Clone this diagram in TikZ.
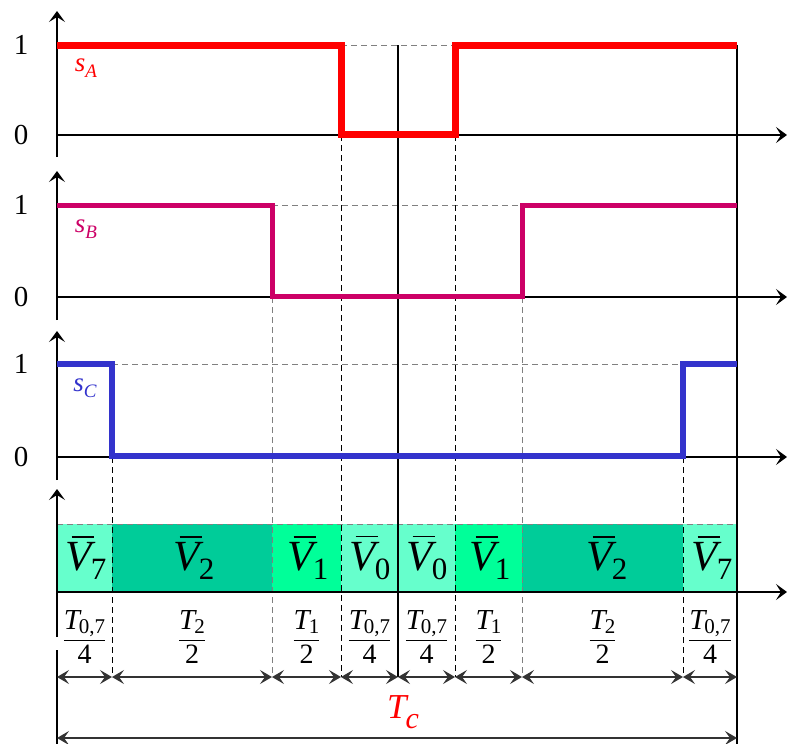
\documentclass[tikz,border=0pt]{standalone}
\usepackage{fontspec}
\setmainfont{Liberation Serif}
\usetikzlibrary{arrows.meta}
\definecolor{sigA}{RGB}{255,0,0}
\definecolor{sigB}{RGB}{204,0,102}
\definecolor{sigC}{RGB}{51,51,204}
\definecolor{vlight}{RGB}{102,255,204}
\definecolor{vdark}{RGB}{0,204,153}
\definecolor{vmid}{RGB}{0,255,153}
\newcommand\fs[2]{{\fontsize{#1}{#1}\selectfont #2}}
\newsavebox\myvbx
% vector label: overlined italic V with a large upright subscript
\newcommand\vlabel[1]{\sbox\myvbx{\fs{43}{\itshape V}}%
  \vbox{\hbox to\wd\myvbx{\hss\vrule width \dimexpr\wd\myvbx-4pt\relax height 1.4pt depth 0pt\kern-2pt}\kern4pt\copy\myvbx}%
  \kern-1pt\raisebox{-9pt}{\fs{31}{#1}}}
% fraction label
\newcommand\flabel[2]{\fs{29}{$\displaystyle\frac{\mbox{\itshape T\kern-1pt\raisebox{-4pt}{\fs{21}{\upshape #1}}}}{\mbox{\fs{28}{#2}}}$}}
% signal label
\newcommand\slabel[1]{\fs{27}{\itshape s}\raisebox{-6pt}{\fs{19}{\itshape #1}}}
\begin{document}
\begin{tikzpicture}[x=1pt,y=-1pt,
  axis/.style={line width=1.4pt,-{Stealth[length=11pt,width=16pt,inset=5pt]}},
  sig/.style={line width=6pt,line join=miter},
  lvl/.style={draw=gray,line width=1pt,dash pattern=on 6pt off 4pt},
  vdash/.style={draw=black,line width=1pt,dash pattern=on 6pt off 4pt},
  vgray/.style={draw=gray,line width=1pt,dash pattern=on 6pt off 4pt},
  dim/.style={line width=1.3pt,draw=black!80,{Stealth[length=12pt,width=14pt,inset=5pt]}-{Stealth[length=12pt,width=14pt,inset=5pt]}},
  ticklab/.style={font=\fontsize{29}{34}\selectfont,inner sep=0pt},
  lab/.style={inner sep=0pt}]
\useasboundingbox (0,0) rectangle (787,744);
% bar cells
\fill[vlight] (57,524) rectangle (112,592);
\fill[vdark]  (112,524) rectangle (272,592);
\fill[vmid]   (272,524) rectangle (341,592);
\fill[vlight] (341,524) rectangle (455,592);
\fill[vmid]   (455,524) rectangle (522,592);
\fill[vdark]  (522,524) rectangle (683,592);
\fill[vlight] (683,524) rectangle (737,592);
% coordinates
\foreach \n/\x in {0/57,1/112,2/272,3/341,4/398,5/455,6/522,7/683,8/737}{
  \coordinate (d\n) at (\x,677);
}
\coordinate (tcL) at (57,738);
\coordinate (tcR) at (737,738);
% level dashed lines
\draw[lvl] (341,45) -- (455,45);
\draw[lvl] (272,205) -- (522,205);
\draw[lvl] (112,364) -- (683,364);
\draw[lvl] (57,524) -- (737,524);
% vertical guide lines
\draw[vdash] (341,135) -- (d3);
\draw[vdash] (455,135) -- (d5);
\draw[vgray] (272,297) -- (d2);
\draw[vgray] (522,297) -- (d6);
\draw[vdash] (112,457) -- (d1);
\draw[vdash] (683,457) -- (d7);
\draw[line width=1.2pt] (398,45) -- (d4);
\draw[line width=1.2pt] (737,45) -- (737,744);
\draw[line width=1.3pt] (57,650) -- (57,744);
% axes
\coordinate (yA0) at (57,157); \coordinate (yA1) at (57,11);
\coordinate (yB0) at (57,320); \coordinate (yB1) at (57,171);
\coordinate (yC0) at (57,480); \coordinate (yC1) at (57,331);
\coordinate (yD0) at (57,637); \coordinate (yD1) at (57,489);
\draw[axis] (yA0) -- (yA1);
\draw[axis] (yB0) -- (yB1);
\draw[axis] (yC0) -- (yC1);
\draw[axis] (yD0) -- (yD1);
\draw[axis] (57,135) -- (787,135);
\draw[axis] (57,297) -- (787,297);
\draw[axis] (57,457) -- (787,457);
\draw[axis] (57,592) -- (787,592);
% signals
\draw[sig,sigA,line width=7pt] (57,45) -- (341,45) -- (341,134) -- (455,134) -- (455,45) -- (737,45);
\draw[sig,sigB,line width=5pt] (57,205) -- (272,205) -- (272,296) -- (522,296) -- (522,205) -- (737,205);
\draw[sig,sigC,line width=5.5pt] (57,364) -- (112,364) -- (112,456) -- (683,456) -- (683,364) -- (737,364);
% tick labels
\node[ticklab] (a1) at (21,45) {1};
\node[ticklab] (a0) at (21,135) {0};
\node[ticklab] (b1) at (21,205) {1};
\node[ticklab] (b0) at (21,297) {0};
\node[ticklab] (c1) at (21,364) {1};
\node[ticklab] (c0) at (21,457) {0};
% signal names
\node[lab,text=sigA] (sA) at (86,68) {\slabel{A}};
\node[lab,text=sigB] (sB) at (86,229) {\slabel{B}};
\node[lab,text=sigC] (sC) at (85,388) {\slabel{C}};
% vector labels
\node[lab] (v7a) at (86,558) {\vlabel{7}};
\node[lab] (v2a) at (194,558) {\vlabel{2}};
\node[lab] (v1a) at (308,558) {\vlabel{1}};
\node[lab] (v0a) at (370,558) {\vlabel{0}};
\node[lab] (v0b) at (427,558) {\vlabel{0}};
\node[lab] (v1b) at (490,558) {\vlabel{1}};
\node[lab] (v2b) at (607,558) {\vlabel{2}};
\node[lab] (v7b) at (712,558) {\vlabel{7}};
% fractions
\node[lab] (f1) at (84.5,637) {\flabel{0,7}{4}};
\node[lab] (f2) at (192,637) {\flabel{2}{2}};
\node[lab] (f3) at (306.5,637) {\flabel{1}{2}};
\node[lab] (f4) at (369.5,637) {\flabel{0,7}{4}};
\node[lab] (f5) at (426.5,637) {\flabel{0,7}{4}};
\node[lab] (f6) at (488.5,637) {\flabel{1}{2}};
\node[lab] (f7) at (602.5,637) {\flabel{2}{2}};
\node[lab] (f8) at (710,637) {\flabel{0,7}{4}};
% dimension arrows
\foreach \a/\b in {0/1,1/2,2/3,3/4,4/5,5/6,6/7,7/8}{
  \draw[dim] (d\a) -- (d\b);
}
\draw[dim] (tcL) -- (tcR);
\node[lab,text=sigA] (tc) at (403,712) {\fs{35}{\itshape T}\kern-1pt\raisebox{-10pt}{\fs{30}{\itshape c}}};
\end{tikzpicture}
\end{document}
